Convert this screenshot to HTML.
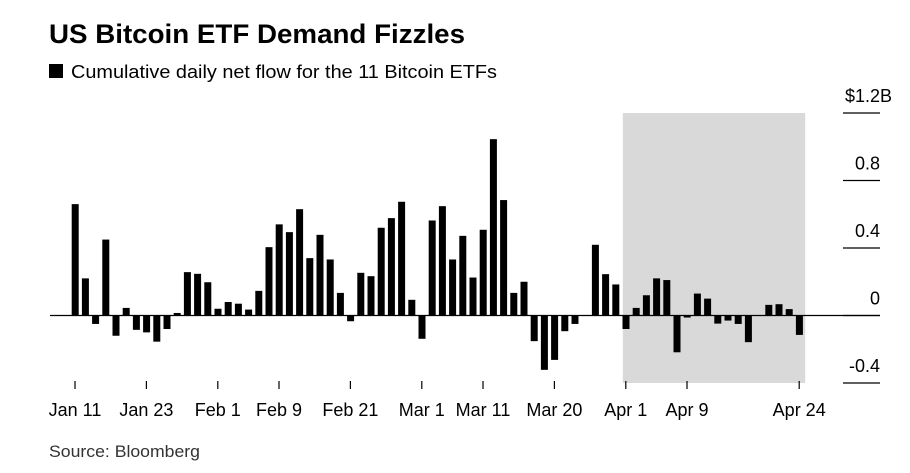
<!DOCTYPE html>
<html><head><meta charset="utf-8"><style>
body{margin:0;background:#fff;width:910px;height:468px;overflow:hidden;font-family:"Liberation Sans",sans-serif}
</style></head><body>
<svg width="910" height="468" xmlns="http://www.w3.org/2000/svg">
<text x="49" y="43" font-size="27" font-weight="bold" fill="#000" textLength="416" lengthAdjust="spacingAndGlyphs">US Bitcoin ETF Demand Fizzles</text>
<rect x="49" y="64" width="14" height="14" fill="#000"/>
<text x="71" y="78" font-size="18" fill="#000" textLength="426" lengthAdjust="spacingAndGlyphs">Cumulative daily net flow for the 11 Bitcoin ETFs</text>
<text x="49" y="457" font-size="17" fill="#333" textLength="151" lengthAdjust="spacingAndGlyphs">Source: Bloomberg</text>
<g id="plot"></g>
</svg>
<script>
const values=[0.66,0.22,-0.05,0.45,-0.12,0.045,-0.085,-0.10,-0.155,-0.08,0.015,0.257,0.247,0.197,0.04,0.08,0.07,0.035,0.146,0.405,0.54,0.494,0.63,0.34,0.478,0.332,0.134,-0.034,0.253,0.233,0.52,0.577,0.674,0.093,-0.138,0.563,0.648,0.332,0.472,0.225,0.508,1.045,0.684,0.134,0.2,-0.152,-0.322,-0.263,-0.093,-0.05,0.003,0.419,0.245,0.184,-0.08,0.045,0.12,0.22,0.21,-0.218,-0.012,0.13,0.1,-0.048,-0.03,-0.05,-0.158,0.002,0.063,0.067,0.038,-0.115];
const tickIdx=[0,7,14,20,27,34,40,47,54,60,71];
const tickLabels=["Jan 11","Jan 23","Feb 1","Feb 9","Feb 21","Mar 1","Mar 11","Mar 20","Apr 1","Apr 9","Apr 24"];
const yTicks=[1.2,0.8,0.4,0,-0.4];
const yTickLabels=["$1.2B","0.8","0.4","0","-0.4"];
const shadeStart=54, shadeEnd=71;
const NS="http://www.w3.org/2000/svg";
const g=document.getElementById('plot');
const y=v=>315.5-v*168.75;
const xc=i=>75+i*10.2;
function mk(t,a){const e=document.createElementNS(NS,t);for(const k in a)e.setAttribute(k,a[k]);g.appendChild(e);return e;}
let s=mk('rect',{x:xc(shadeStart)-3,y:y(1.2),width:xc(shadeEnd)-xc(shadeStart)+9,height:y(-0.4)-y(1.2),fill:'#d9d9d9'});


yTicks.forEach((v,k)=>{
 const l=mk('line',{x1:843,x2:880,y1:y(v),y2:y(v),stroke:'#000','stroke-width':1.3});
 
 
 const first=k===0;
 const t=mk('text',{x:first?845:880,y:y(v)-11,'text-anchor':first?'start':'end','font-size':18,fill:'#000'});
 t.textContent=yTickLabels[k];
 
 
});
values.forEach((v,i)=>{
 const r=mk('rect',{x:xc(i)-3.3,y:Math.min(y(v),y(0)),width:7,height:Math.abs(y(v)-y(0)),fill:'#000'});
 
 
});
const z=mk('line',{x1:50,x2:880,y1:y(0),y2:y(0),stroke:'#000','stroke-width':1.3});


tickIdx.forEach((idx,k)=>{
 const l=mk('line',{x1:xc(idx),x2:xc(idx),y1:381,y2:389,stroke:'#000','stroke-width':1.2});
 
 
 const t=mk('text',{x:xc(idx),y:416,'text-anchor':'middle','font-size':18,fill:'#000'});
 t.textContent=tickLabels[k];
 
 
});
</script>
</body></html>
